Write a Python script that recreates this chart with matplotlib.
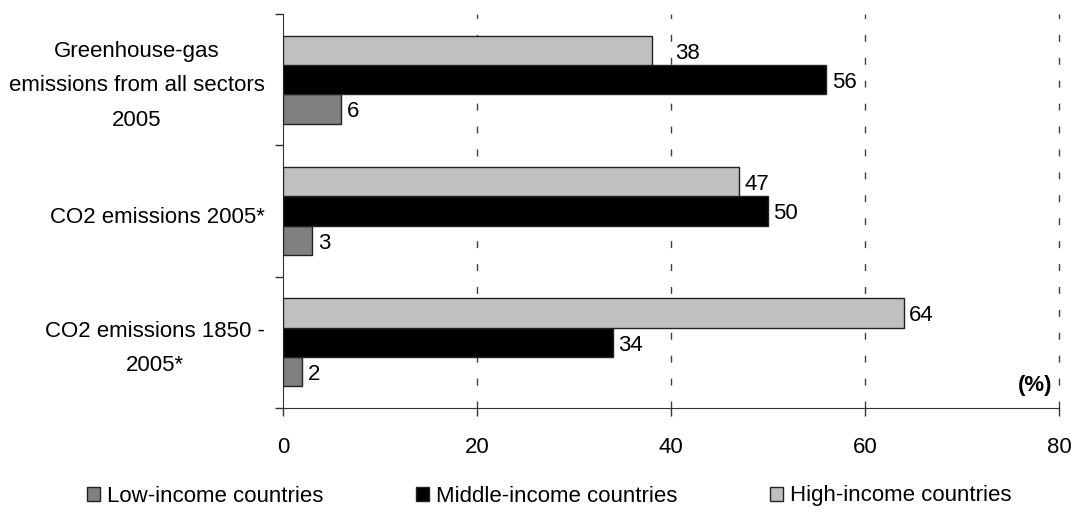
import matplotlib
matplotlib.use("Agg")
import matplotlib.pyplot as plt
from matplotlib.patches import Patch
import numpy as np

plt.rcParams['font.family'] = ['Liberation Sans', 'DejaVu Sans']

categories = ["Greenhouse-gas\nemissions from all sectors\n2005",
              "CO2 emissions 2005*",
              "CO2 emissions 1850 -\n2005*"]
series_names = ["Low-income countries", "Middle-income countries", "High-income countries"]
low = [6, 3, 2]
middle = [56, 50, 34]
high = [38, 47, 64]
colors = ["#808080", "#000000", "#C0C0C0"]
xticks = [0, 20, 40, 60, 80]

# extra label shift (points) to keep value labels clear of gridlines
label_shift = [[0, 0, 0], [0, 0, 0], [13, 0, 0]]

FS = 16
fig = plt.figure(figsize=(10.75, 5.12), dpi=100)
ax = fig.add_axes([283/1075, 1-408/512, (1059-283)/1075, (408-14)/512])

y = np.arange(len(categories))
h = 0.224
offsets = [h, 0.0, -h]  # low below, high above (axis inverted)
data = [low, middle, high]
for i, (vals, name, c) in enumerate(zip(data, series_names, colors)):
    pos = y + offsets[i]
    bars = ax.barh(pos, vals, height=h, color=c, edgecolor="#222222", linewidth=1.0,
                   label=name, zorder=3)
    for j, (b, v) in enumerate(zip(bars, vals)):
        ax.annotate(f"{v}", (b.get_width(), b.get_y() + b.get_height()/2),
                    xytext=(4 + label_shift[i][j], -2), textcoords='offset points',
                    va="center", ha="left", fontsize=FS, zorder=4)

ax.set_xlim(0, 80)
ax.set_ylim(len(categories) - 0.5, -0.5)
ax.set_xticks(xticks)
ax.set_xticklabels([str(t) for t in xticks], fontsize=FS)
ax.tick_params(axis='x', direction='out', length=6, pad=15, width=1, color='#333333')

ax.set_yticks(np.arange(-0.5, len(categories), 1.0))
ax.set_yticklabels([])
ax.tick_params(axis='y', direction='out', length=6, width=1, color='#333333')
for yi, lab in zip(y, categories):
    ax.annotate(lab, (0, yi), xycoords=ax.get_yaxis_transform(),
                xytext=(-13, -4.5), textcoords='offset points', ha='right',
                va='center', fontsize=FS, multialignment='center', linespacing=1.85)

for t in xticks[1:]:
    ax.axvline(t, color='#404040', linestyle=(0, (5, 11.5)), linewidth=1, zorder=1,
               clip_on=False)

for s in ['top', 'right']:
    ax.spines[s].set_visible(False)
ax.spines['left'].set_color('#333333')
ax.spines['bottom'].set_color('#333333')

ax.text(0.991, 0.056, "(%)", transform=ax.transAxes, ha='right', va='center',
        fontsize=FS, fontweight='bold')

legend_x = [87, 416, 770]
for name, c, lx in zip(series_names, colors, legend_x):
    hdl = Patch(facecolor=c, edgecolor='#222222', linewidth=1.0)
    fig.legend([hdl], [name], loc='center left', bbox_to_anchor=(lx/1075, 1-496/512),
               frameon=False, fontsize=FS, handlelength=0.6, handleheight=0.6,
               handletextpad=0.3, borderpad=0, borderaxespad=0)

fig.savefig("out.png", dpi=100)
